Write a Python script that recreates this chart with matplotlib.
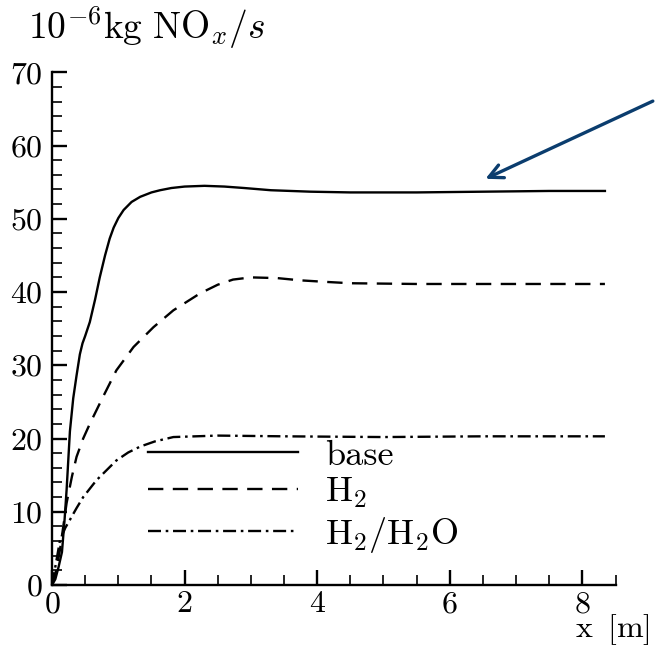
import matplotlib
matplotlib.use('Agg')
import matplotlib.pyplot as plt
from matplotlib.ticker import MultipleLocator, FuncFormatter

plt.rcParams['font.family'] = 'serif'
plt.rcParams['font.serif'] = ['cmr10', 'DejaVu Serif']
plt.rcParams['mathtext.fontset'] = 'cm'
plt.rcParams['axes.formatter.use_mathtext'] = True

# --- data ---
base_x = [0, 0.05, 0.1, 0.15, 0.19, 0.22, 0.27, 0.32, 0.37, 0.42, 0.46, 0.5, 0.57, 0.65, 0.72,
          0.8, 0.87, 0.93, 1.0, 1.08, 1.2, 1.33, 1.5, 1.63, 1.8, 2.0, 2.3, 2.6, 2.9, 3.3, 3.9,
          4.5, 5.5, 6.5, 7.5, 8.34]
base_y = [0, 0.8, 2.5, 4.5, 9.0, 13.0, 21.0, 25.5, 28.6, 31.5, 33.0, 34.0, 35.9, 39.0, 42.0,
          45.0, 47.3, 48.8, 50.1, 51.2, 52.3, 53.0, 53.6, 53.9, 54.2, 54.4, 54.5, 54.4, 54.2,
          53.9, 53.7, 53.6, 53.6, 53.7, 53.8, 53.8]

h2_x = [0, 0.05, 0.12, 0.22, 0.3, 0.37, 0.47, 0.57, 0.77, 0.97, 1.23, 1.53, 1.83, 2.23, 2.5,
        2.73, 3.0, 3.4, 3.74, 4.1, 4.5, 5.5, 6.5, 7.5, 8.34]
h2_y = [0, 1.5, 4.8, 11.2, 14.8, 17.5, 20.0, 22.0, 25.7, 29.3, 32.5, 35.2, 37.5, 39.8, 41.0,
        41.7, 42.0, 41.9, 41.6, 41.4, 41.2, 41.1, 41.1, 41.1, 41.1]

h2o_x = [0, 0.05, 0.12, 0.2, 0.27, 0.37, 0.47, 0.67, 0.97, 1.15, 1.33, 1.55, 1.83, 2.5, 3.5,
         5.0, 6.5, 8.34]
h2o_y = [0, 2.5, 6.1, 7.8, 8.9, 10.5, 12.0, 14.3, 17.0, 18.1, 18.9, 19.6, 20.2, 20.4, 20.3,
         20.2, 20.3, 20.3]

labels = ['base', r'$\mathrm{H_2}$', r'$\mathrm{H_2/H_2O}$']

fig = plt.figure(figsize=(6.56, 6.49), dpi=100)
ax = fig.add_axes([0.0793, 0.0986, 0.859, 0.790])

ax.plot(base_x, base_y, color='black', lw=1.7, label=labels[0])
ax.plot(h2_x, h2_y, color='black', lw=1.7, dashes=(6.5, 4), label=labels[1])
ax.plot(h2o_x, h2o_y, color='black', lw=1.7, dashes=(5.5, 2, 1.1, 2), label=labels[2])

ax.set_xlim(0, 8.5)
ax.set_ylim(0, 70)
ax.xaxis.set_major_locator(MultipleLocator(2))
ax.xaxis.set_minor_locator(MultipleLocator(0.5))
ax.yaxis.set_major_locator(MultipleLocator(10))
ax.yaxis.set_minor_locator(MultipleLocator(2))
math_fmt = FuncFormatter(lambda v, p: f'$\\mathrm{{{v:g}}}$')
ax.xaxis.set_major_formatter(math_fmt)
ax.yaxis.set_major_formatter(math_fmt)
for s in ['top', 'right']:
    ax.spines[s].set_visible(False)
for s in ['left', 'bottom']:
    ax.spines[s].set_linewidth(1.7)
ax.tick_params(which='major', direction='in', length=11, width=1.7, labelsize=23, pad=7)
ax.tick_params(axis='x', which='major', pad=4)
ax.tick_params(which='minor', direction='in', length=7, width=1.2)

ax.legend(loc='center left', bbox_to_anchor=(0.17, 0.1715), frameon=False,
          fontsize=26, handlelength=4.15, handletextpad=0.75, labelspacing=0.12,
          borderpad=0, borderaxespad=0)

fig.text(28 / 656, 1 - 28 / 649, r'$10^{-6}\mathrm{kg\ NO}_x/s$', fontsize=27,
         ha='left', va='center')
fig.text(650 / 656, 2 / 649, r'$\mathrm{x\;\;[m]}$', fontsize=23, ha='right', va='bottom')

ax.annotate('', xy=(6.5, 55.3), xycoords='data', xytext=(0.999, 0.846),
            textcoords='figure fraction', annotation_clip=False,
            arrowprops=dict(arrowstyle='->,head_length=1.0,head_width=0.5',
                            color='#0b3d6e', lw=2.4))

fig.savefig('out.png', dpi=100)
